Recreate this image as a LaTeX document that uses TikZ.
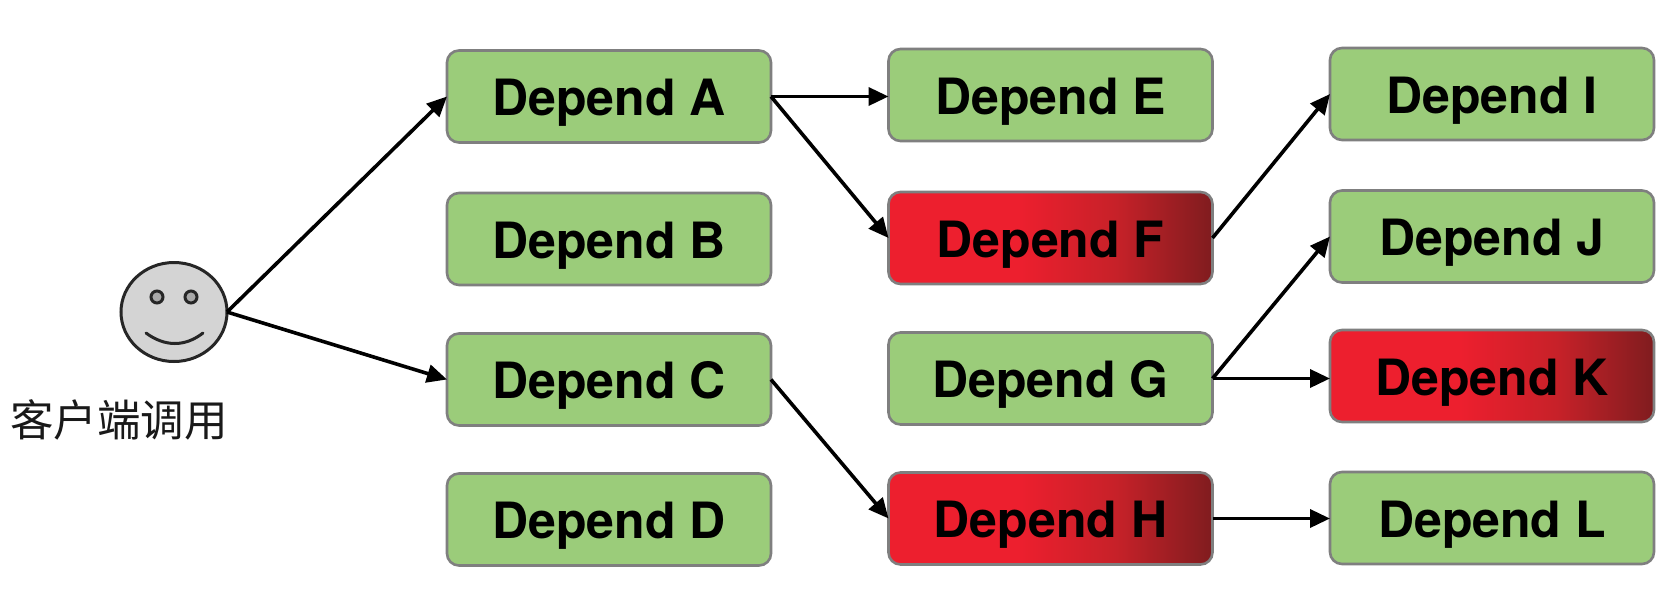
\documentclass[tikz,border=0pt]{standalone}
\usepackage{fontspec}
\setmainfont{TeX Gyre Heros}
\newfontfamily\cjkfont{Noto Sans CJK SC}
\usetikzlibrary{arrows.meta,shapes.geometric}
\definecolor{boxgreen}{HTML}{9BCC7A}
\definecolor{boxedge}{HTML}{7F7F7F}
\definecolor{facefill}{HTML}{D4D4D4}
\definecolor{eyefill}{HTML}{A8A8A8}
\pgfdeclarehorizontalshading{redfade}{100bp}{
  rgb(0bp)=(0.93,0.12,0.18);
  rgb(25bp)=(0.93,0.12,0.18);
  rgb(45bp)=(0.93,0.12,0.18);
  rgb(60bp)=(0.78,0.13,0.16);
  rgb(75bp)=(0.50,0.11,0.12);
  rgb(100bp)=(0.50,0.11,0.12)}
\tikzset{
  dep/.style={rectangle,rounded corners=12pt,draw=boxedge,line width=2.6pt,outer sep=0pt,
    minimum width=324pt,minimum height=92pt,inner sep=0pt,
    text height=38pt,text depth=0pt,font=\fontsize{50pt}{50pt}\selectfont\bfseries,text=black},
  okbox/.style={dep,fill=boxgreen},
  badbox/.style={dep,shading=redfade},
  link/.style={draw=black,line width=3.6pt,-{Triangle[length=20pt,width=18pt]}},
  faceoutline/.style={draw=black!85,line width=3pt},
}
\begin{document}
\begin{tikzpicture}[x=1pt,y=-1pt]
\useasboundingbox[fill=white] (0,0) rectangle (1668,595);
\node[ellipse,faceoutline,outer sep=0pt,fill=facefill,minimum width=106pt,minimum height=99pt,inner sep=0pt] (face) at (174,312) {};
\draw[faceoutline,fill=eyefill] (157,297) circle (6pt);
\draw[faceoutline,fill=eyefill] (191,297) circle (6pt);
\draw[faceoutline,line cap=round] (146,333) .. controls (165,347) and (185,347) .. (203,333);
\node[font=\cjkfont\fontsize{43.5pt}{44pt}\selectfont,text=black!90,inner sep=0pt] (client) at (119,420) {客户端调用};

\node[okbox] (A) at (609,96.5) {Depend A};
\node[okbox] (B) at (609,239) {Depend B};
\node[okbox] (C) at (609,379.5) {Depend C};
\node[okbox] (D) at (609,519.5) {Depend D};
\node[okbox] (E) at (1050.5,95) {Depend E};
\node[badbox] (F) at (1050.5,238) {Depend F};
\node[okbox] (G) at (1050.5,378.5) {Depend G};
\node[badbox] (H) at (1050.5,518.5) {Depend H};
\node[okbox] (I) at (1492,94) {Depend I};
\node[okbox] (J) at (1492,236.5) {Depend J};
\node[badbox] (K) at (1492,376) {Depend K};
\node[okbox] (L) at (1492,518) {Depend L};

\draw[link] (face.east) -- (A.west);
\draw[link] (face.east) -- (C.west);
\draw[link] (A.east) -- (A.east -| E.west);
\draw[link] (A.east) -- (F.west);
\draw[link] (C.east) -- (H.west);
\draw[link] (F.east) -- (I.west);
\draw[link] (G.east) -- (J.west);
\draw[link] (G.east) -- (G.east -| K.west);
\draw[link] (H.east) -- (H.east -| L.west);
\end{tikzpicture}
\end{document}
